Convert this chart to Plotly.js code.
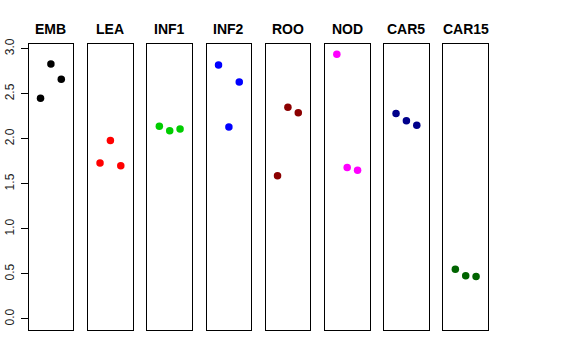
<!DOCTYPE html>
<html>
<head>
<meta charset="utf-8">
<script src="https://cdn.plot.ly/plotly-3.0.1.min.js"></script>
<style>html,body{margin:0;padding:0;background:#fff;}#chart{width:576px;height:360px;}</style>
</head>
<body>
<div id="chart"></div>
<script>
const categories = ["EMB", "LEA", "INF1", "INF2", "ROO", "NOD", "CAR5", "CAR15"];
const replicate = [1, 2, 3];
const EMB = [2.45, 2.83, 2.66];
const LEA = [1.73, 1.98, 1.70];
const INF1 = [2.14, 2.09, 2.11];
const INF2 = [2.82, 2.13, 2.63];
const ROO = [1.59, 2.35, 2.29];
const NOD = [2.94, 1.68, 1.65];
const CAR5 = [2.28, 2.20, 2.15];
const CAR15 = [0.55, 0.48, 0.47];
const seriesValues = [EMB, LEA, INF1, INF2, ROO, NOD, CAR5, CAR15];
const colors = ["#000000", "#FF0000", "#00CD00", "#0000FF", "#8B0000", "#FF00FF", "#00008B", "#006400"];
const yTicks = [0, 0.5, 1, 1.5, 2, 2.5, 3];

const W = 576, H = 360;
const panelLeft = [28.5, 88, 147.3, 206.5, 265.5, 324.8, 384, 443.3];
const panelW = 44.8;
const yTop = 43.5, yBot = 329.5;

const data = [];
const layout = {
  width: W, height: H,
  margin: {l: 0, r: 0, t: 0, b: 0},
  paper_bgcolor: "#fff", plot_bgcolor: "#fff",
  showlegend: false,
  font: {family: "Liberation Sans, Arial, sans-serif", color: "#000"},
  annotations: []
};
const ydom = [1 - yBot / H, 1 - yTop / H];
categories.forEach((c, i) => {
  const n = i + 1;
  const xa = n === 1 ? "x" : "x" + n;
  const ya = n === 1 ? "y" : "y" + n;
  data.push({
    type: "scatter", mode: "markers",
    x: replicate, y: seriesValues[i],
    xaxis: xa, yaxis: ya,
    marker: {color: colors[i], size: 7.5, line: {width: 0}},
    hoverinfo: "none"
  });
  const xd = [panelLeft[i] / W, (panelLeft[i] + panelW) / W];
  layout["xaxis" + (n === 1 ? "" : n)] = {
    domain: xd, range: [-0.16, 4.16], showgrid: false, zeroline: false,
    showticklabels: false, ticks: "", showline: true, mirror: true,
    linecolor: "#000", linewidth: 1, fixedrange: true
  };
  const yax = {
    domain: ydom, range: [-0.1176, 3.058], showgrid: false, zeroline: false,
    showline: true, mirror: true, linecolor: "#000", linewidth: 1,
    anchor: xa, fixedrange: true
  };
  if (n === 1) {
    Object.assign(yax, {
      tickvals: yTicks, ticktext: yTicks.map(v => v.toFixed(1)),
      ticks: "outside", ticklen: 7, tickcolor: "#000", tickwidth: 1,
      tickangle: -90, tickfont: {size: 12, color: "#222"}, showticklabels: true,
      ticklabelstandoff: 2
    });
  } else {
    Object.assign(yax, {showticklabels: false, ticks: ""});
  }
  layout["yaxis" + (n === 1 ? "" : n)] = yax;
  layout.annotations.push({
    text: "<b>" + c + "</b>", xref: "paper", yref: "paper",
    x: (panelLeft[i] + panelW / 2) / W, y: 1 - 29 / H,
    xanchor: "center", yanchor: "middle", showarrow: false,
    font: {size: 14, color: "#000", family: "Liberation Sans, Arial, sans-serif"}
  });
});
Plotly.newPlot("chart", data, layout, {displayModeBar: false, staticPlot: true});
</script>
</body>
</html>
